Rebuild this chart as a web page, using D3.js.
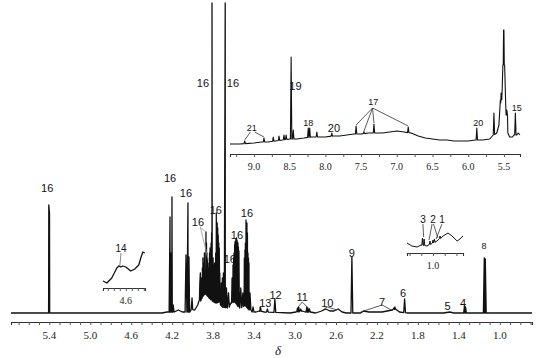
<!DOCTYPE html>
<html><head><meta charset="utf-8">
<script src="https://cdn.jsdelivr.net/npm/d3@7"></script>
<style>
body{margin:0;background:#fff}
svg{display:block}
.lab{font-family:"Liberation Sans",Arial,sans-serif;fill:#111}
.ax text{font-family:"Liberation Serif","Times New Roman",serif;fill:#222}
</style></head><body>
<script>
// ---------------- DATA ----------------
// main spectrum: slowly varying trace [ppm, intensity]
const mainTrace = [[5.774,0],[5.45,0],[5.35,0],[4.30,0],[4.25,1],[4.18,1],[4.14,3],[4.12,2],[4.10,1],[4.03,1],[4.00,4],[3.98,3],[3.95,8],[3.92,14],[3.90,18],[3.87,20],[3.84,16],[3.80,12],[3.77,10],[3.74,12],[3.72,8],[3.70,6],[3.66,5],[3.64,7],[3.62,10],[3.60,12],[3.57,10],[3.54,5],[3.52,6],[3.48,8],[3.45,4],[3.42,1],[3.38,1],[3.35,2],[3.30,1],[3.05,0],[2.99,1],[2.93,2],[2.90,1],[2.85,1],[2.80,0],[2.74,2],[2.70,4],[2.66,2],[2.62,2],[2.58,4],[2.54,1],[2.50,0],[2.36,0],[2.33,2],[2.28,1],[2.15,1],[2.10,2],[2.05,3],[2.02,4],[1.98,1],[1.90,0],[1.55,0],[1.49,1],[1.45,0],[1.20,0],[0.686,0]];
// main spectrum: sharp peaks [ppm, intensity]
const mainPeaks = [[5.405,108],[5.398,100],[4.221,96],[4.212,60],[4.202,116],[4.19,8],[4.065,58],[4.046,110],[4.036,56],[4.006,15],
 [3.93,30],[3.925,40],[3.915,35],[3.905,45],[3.90,55],[3.895,38],[3.889,50],[3.885,60],[3.877,42],[3.870,81],[3.865,70],[3.860,60],[3.855,55],[3.850,50],[3.845,45],
 [3.835,60],[3.83,65],[3.825,50],[3.82,70],[3.815,80],[3.811,310],
 [3.80,55],[3.79,45],[3.785,50],[3.775,60],[3.769,100],[3.760,90],[3.755,85],[3.750,78],[3.745,70],[3.74,65],[3.735,40],[3.72,30],[3.71,35],[3.70,40],[3.69,30],[3.682,310],[3.67,25],[3.65,20],
 [3.615,35],[3.606,48],[3.60,55],[3.596,60],[3.59,68],[3.587,71],[3.582,72],[3.577,74],[3.572,75],[3.567,73],[3.562,71],[3.558,70],[3.553,66],[3.548,62],[3.53,25],[3.51,20],
 [3.495,55],[3.489,63],[3.485,70],[3.479,93],[3.475,85],[3.470,90],[3.465,80],[3.460,60],[3.455,55],[3.450,50],[3.44,20],[3.41,6],[3.34,6],[3.335,5],[3.27,4],
 [3.197,14],[2.975,5],[2.965,6],[2.945,4],[2.885,6],[2.875,5],[2.86,4],[2.445,56],[2.035,5],[2.025,6],[1.93,14],
 [1.345,7],[1.335,6],[1.152,55],[1.142,54]];
// inset A (aromatic region 9.3-5.3 ppm)
const insetATrace = [[9.336,1],[9.2,1],[9.0,2],[8.9,3],[8.8,3],[8.7,4],[8.6,5],[8.5,6],[8.4,6],[8.3,7],[8.2,8],[8.1,8],[8.0,8],[7.9,9],[7.8,9],[7.7,10],[7.6,11],[7.5,11],[7.4,12],[7.3,12],[7.2,12],[7.1,13],[7.0,14],[6.9,13],[6.8,12],[6.7,9],[6.6,7],[6.5,6],[6.4,5],[6.3,5],[6.2,4],[6.1,4],[6.0,4],[5.9,5],[5.8,5],[5.7,6],[5.65,10],[5.60,12],[5.57,20],[5.545,42],[5.525,55],[5.51,80],[5.49,80],[5.475,40],[5.46,30],[5.445,12],[5.42,8],[5.38,8],[5.36,10],[5.32,10],[5.30,12],[5.275,10]];
const insetAPeaks = [[9.13,4],[8.86,7],[8.73,8],[8.65,9],[8.58,10],[8.55,10],[8.48,88],[8.45,15],[8.24,17],[8.22,17],[8.12,13],[7.91,12],[7.57,19],[7.46,13],[7.32,21],[6.84,18],[5.88,17],[5.64,32],[5.54,52],[5.505,115],[5.50,115],[5.46,35],[5.34,32]];
// inset B (around 1.0 ppm)
const insetBTrace = [[1.111,4],[1.09,1],[1.068,0],[1.051,2],[1.026,1],[0.983,6],[0.957,11],[0.936,14],[0.919,11],[0.897,6],[0.885,8],[0.872,11]];
const insetBPeaks = [[1.045,9],[1.038,8],[1.013,6],[1.0,7],[0.994,8],[0.97,11]];
// inset C (around 4.6 ppm)
const insetCTrace = [[4.79,4],[4.758,2],[4.717,7],[4.675,17],[4.658,19],[4.642,18],[4.625,19],[4.60,18],[4.558,14],[4.525,16],[4.492,20],[4.475,27],[4.458,33],[4.442,32]];
// axis tick labels
const mainTickLabels = [5.4,5.0,4.6,4.2,3.8,3.4,3.0,2.6,2.2,1.8,1.4,1.0];
const insetATickLabels = [9.0,8.5,8.0,7.5,7.0,6.5,6.0,5.5];
const insetBTickLabels = [1.0];
const insetCTickLabels = [4.6];
// annotations: [text, ppm, intensity]
const mainLabels = [["16",5.42,125],["16",4.221,135],["16",4.065,120],["16",3.948,91],["16",3.774,103],["16",3.637,54],["16",3.567,78],["16",3.47,100],["16",3.90,230],["16",3.607,230],
 ["13",3.29,10],["12",3.19,18],["11",2.93,16],["10",2.685,10],["9",2.445,60],["7",2.15,11],["6",1.945,20],["5",1.51,7],["4",1.36,10],["8",1.155,67]];
const insetALabels = [["21",9.03,17],["19",8.42,59],["18",8.24,22],["20",7.88,17],["17",7.33,43],["20",5.86,22],["15",5.32,37]];
const insetBLabels = [["3",1.043,28],["2",1.0,28],["1",0.962,28]];
const insetCLabels = [["14",4.64,37]];

// ---------------- DRAW ----------------
const W=555,H=358;
const svg=d3.select("body").append("svg").attr("width",W).attr("height",H);

function spectrum(g,x,y,trace,peaks,sw,hw){
  const base=d3.scaleLinear().domain(trace.map(d=>d[0])).range(trace.map(d=>d[1]));
  let pts=trace.map(d=>[x(d[0]),y(d[1])]);
  (peaks||[]).forEach(p=>{
    const px=x(p[0]),b=y(base(p[0]));
    pts.push([px-hw,b],[px,y(p[1])],[px+hw,b]);
  });
  pts.sort((a,b)=>a[0]-b[0]);
  g.append("path").attr("d",d3.line()(pts)).attr("fill","none").attr("stroke","#111")
   .attr("stroke-width",sw).attr("stroke-linejoin","round");
}
function axis(g,x,yPos,minor,labels,fs,tick){
  const ax=g.append("g").attr("class","ax").attr("transform",`translate(0,${yPos})`);
  ax.call(d3.axisBottom(x).tickValues(minor).tickSize(tick).tickFormat(""))
    .call(a=>a.select(".domain").attr("stroke","#333").attr("stroke-width",1.1))
    .call(a=>a.selectAll(".tick line").attr("stroke","#555"));
  ax.selectAll("text.tl").data(labels).join("text").attr("class","tl")
    .attr("x",d=>x(d)).attr("y",fs+6).attr("text-anchor","middle").attr("font-size",fs).text(d=>d.toFixed(1));
}
function labels(g,x,y,arr,fs){
  g.selectAll(null).data(arr).join("text").attr("class","lab")
   .attr("x",d=>x(d[1])).attr("y",d=>y(d[2])).attr("dy","0.35em")
   .attr("text-anchor","middle").attr("font-size",fs).text(d=>d[0]);
}
function leader(g,x,y,from,tos,col){
  tos.forEach(t=>g.append("line").attr("x1",x(from[0])).attr("y1",y(from[1]))
    .attr("x2",x(t[0])).attr("y2",y(t[1])).attr("stroke",col||"#333").attr("stroke-width",0.8));
}

// main
const x=d3.scaleLinear().domain([5.774,0.686]).range([11,532]);
const y=d3.scaleLinear().domain([0,310]).range([313,3]);
const gm=svg.append("g");
labels(gm,x,y,mainLabels.filter(d=>d[0]!=="8"),11);
labels(gm,x,y,mainLabels.filter(d=>d[0]==="8"),9);
spectrum(gm,x,y,mainTrace,mainPeaks,1.3,0.9);
axis(gm,x,322,d3.range(0.7,5.75,0.1),mainTickLabels,11,3);
leader(gm,x,y,[3.925,86],[[3.872,81],[3.845,52]],"#999");
leader(gm,x,y,[2.93,11],[[2.97,6],[2.88,6]]);
leader(gm,x,y,[2.685,6],[[2.73,3],[2.59,3]]);
leader(gm,x,y,[2.15,8],[[2.36,1],[2.06,3]]);
svg.append("text").attr("x",278).attr("y",355).attr("text-anchor","middle")
  .attr("font-family","Liberation Serif,serif").attr("font-style","italic").attr("font-size",13).attr("fill","#222").text("δ");

// inset A
const xa=d3.scaleLinear().domain([9.336,5.275]).range([230,520]);
const ya=d3.scaleLinear().domain([0,145]).range([145,0]);
const ga=svg.append("g");
spectrum(ga,xa,ya,insetATrace,insetAPeaks,1.1,0.7);
axis(ga,xa,154,d3.range(5.5,9.3,0.25),insetATickLabels,10,3);
labels(ga,xa,ya,insetALabels.filter(d=>d[0]==="19"||(d[0]==="20"&&d[1]>7)),11);
labels(ga,xa,ya,insetALabels.filter(d=>!(d[0]==="19"||(d[0]==="20"&&d[1]>7))),9);
leader(ga,xa,ya,[9.05,13],[[9.13,5]]);
leader(ga,xa,ya,[8.99,13],[[8.86,8]]);
leader(ga,xa,ya,[7.34,37],[[7.57,20],[7.47,12],[7.32,22],[6.84,19]]);

// inset B
const xb=d3.scaleLinear().domain([1.111,0.872]).range([407,463]);
const yb=d3.scaleLinear().domain([0,50]).range([247,197]);
const gb=svg.append("g");
spectrum(gb,xb,yb,insetBTrace,insetBPeaks,1,0.6);
axis(gb,xb,253,[1.10,1.05,1.0,0.95,0.90],insetBTickLabels,10,3);
labels(gb,xb,yb,insetBLabels,10);
leader(gb,xb,yb,[1.043,23],[[1.04,10]]);
leader(gb,xb,yb,[1.004,23],[[1.017,7]]);
leader(gb,xb,yb,[0.998,23],[[0.979,9]]);
leader(gb,xb,yb,[0.962,23],[[0.987,8]]);

// inset C
const xc=d3.scaleLinear().domain([4.79,4.44]).range([103,145]);
const yc=d3.scaleLinear().domain([0,50]).range([285,235]);
const gc=svg.append("g");
spectrum(gc,xc,yc,insetCTrace,[],1.3,0.6);
axis(gc,xc,288,[4.75,4.70,4.65,4.60,4.55,4.50,4.45],insetCTickLabels,10,3);
labels(gc,xc,yc,insetCLabels,10);
leader(gc,xc,yc,[4.64,32],[[4.65,19]],"#666");
</script></body></html>
